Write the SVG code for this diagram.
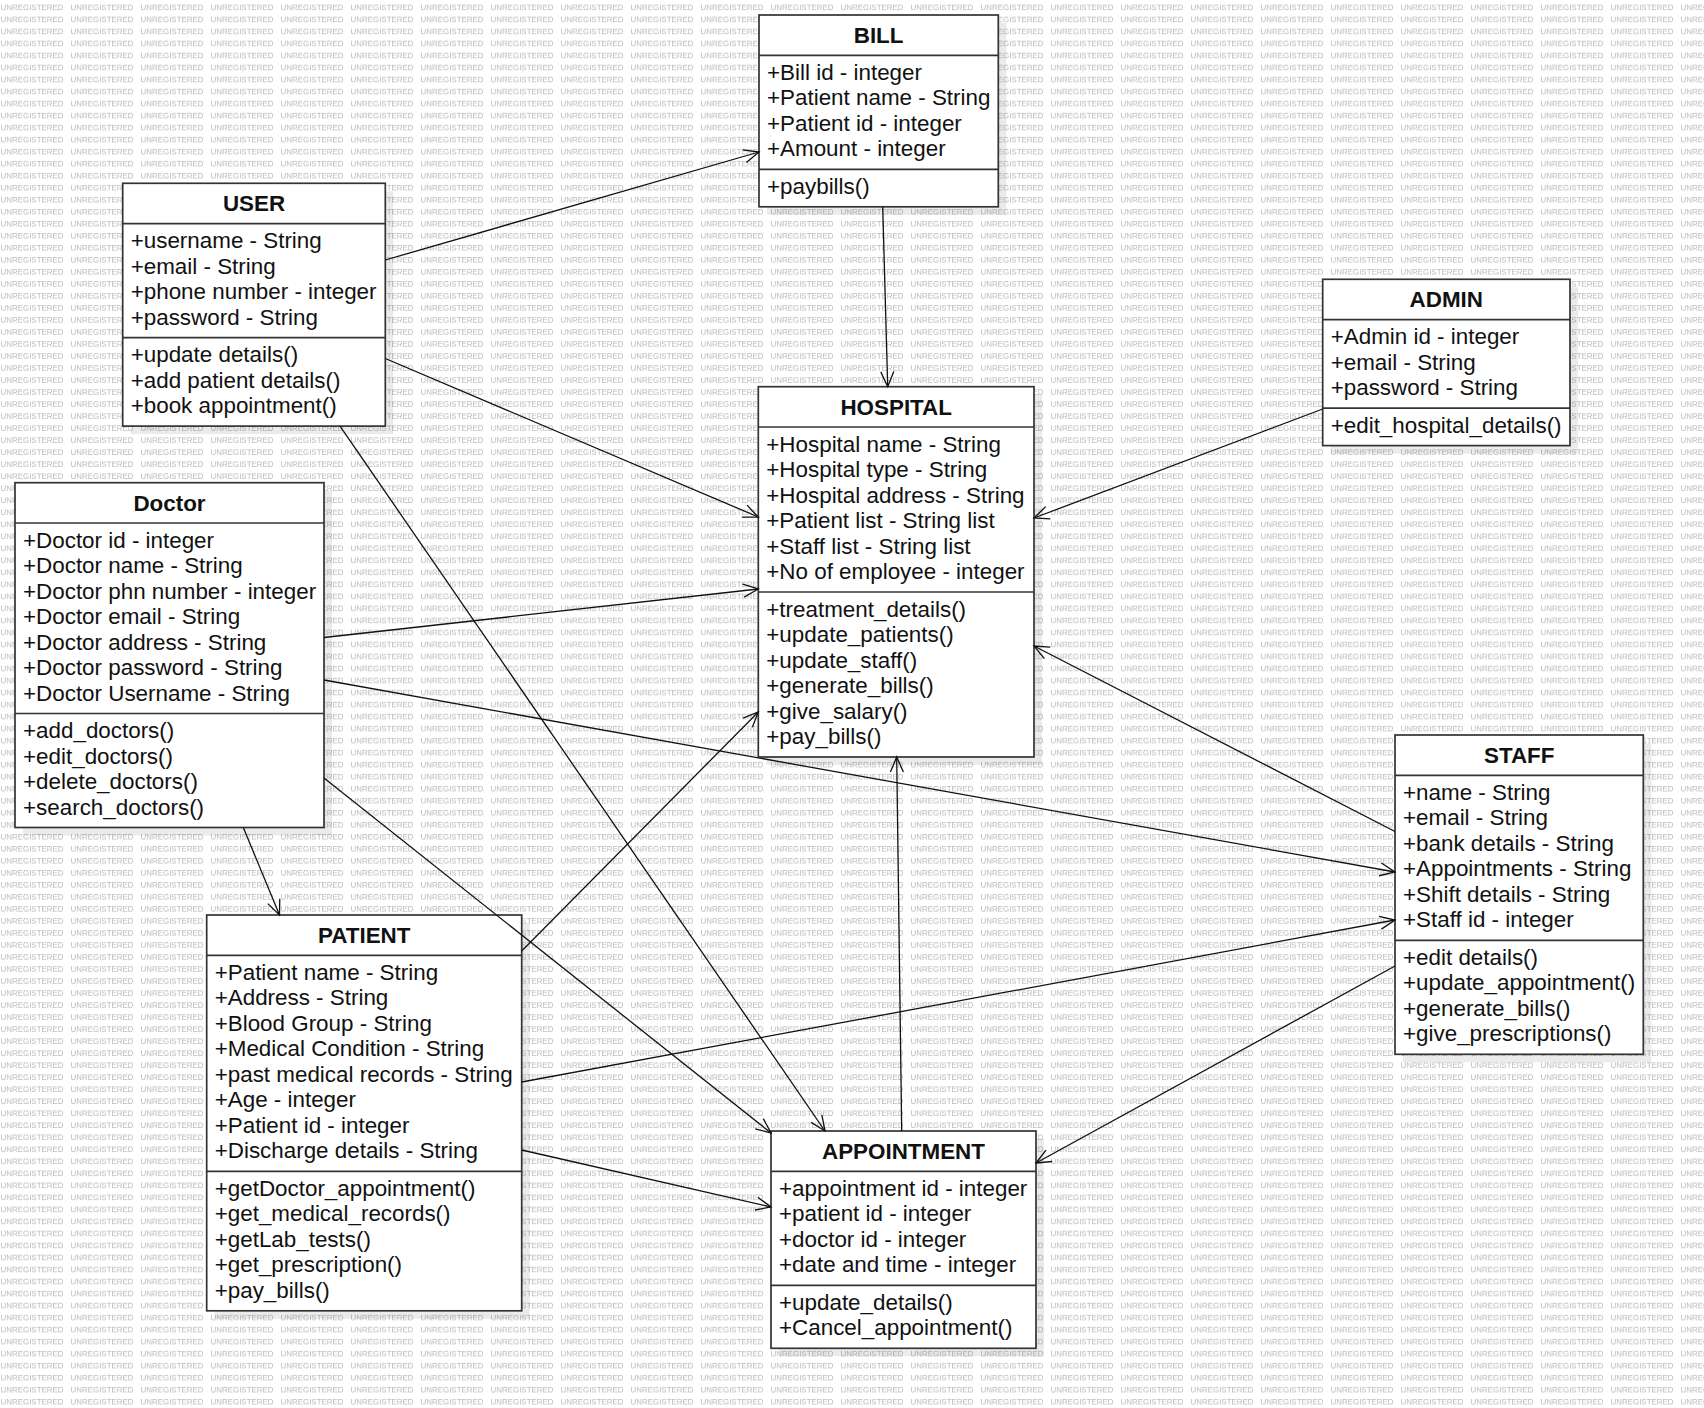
<svg xmlns="http://www.w3.org/2000/svg" width="1704" height="1408" viewBox="0 0 1704 1408">
<style>
.bg{fill:#fff}
.wm{font-family:"Liberation Sans",Arial,sans-serif;font-size:8px;fill:#b9b9b9}
.sh{fill:#000;opacity:0.08}
.box{fill:#fff;stroke:#333;stroke-width:1.7}
.dv{stroke:#333;stroke-width:1.7}
.t{font-family:"Liberation Sans",Arial,sans-serif;font-size:22.4px;fill:#111}
.h{font-weight:bold;text-anchor:middle}
.c{stroke:#111;stroke-width:1.3;fill:none;marker-end:url(#arr)}
</style>
<defs>
<pattern id="wmp" width="70" height="12.02" patternUnits="userSpaceOnUse">
<text class="wm" x="0.5" y="10.2" textLength="63" lengthAdjust="spacingAndGlyphs">UNREGISTERED</text>
</pattern>
<marker id="arr" markerUnits="userSpaceOnUse" markerWidth="20" markerHeight="20" refX="16" refY="7" orient="auto" overflow="visible">
<path d="M1,0.5 L16,7 L1,13.5" fill="none" stroke="#111" stroke-width="1.3"/>
</marker>
</defs>
<rect class="bg" x="0" y="0" width="1704" height="1408"/>
<rect x="0" y="0" width="1704" height="1408" fill="url(#wmp)"/>

<g id="shadows">
<rect class="sh" x="767" y="23" width="239.3" height="191.8"/>
<rect class="sh" x="130.7" y="191.3" width="262.6" height="242.8"/>
<rect class="sh" x="23" y="490.7" width="309" height="344.8"/>
<rect class="sh" x="766.3" y="394.7" width="275.7" height="370.3"/>
<rect class="sh" x="1330.7" y="287.3" width="247.3" height="166.3"/>
<rect class="sh" x="1403" y="743" width="248.3" height="319.3"/>
<rect class="sh" x="214.7" y="923" width="315" height="395.8"/>
<rect class="sh" x="779" y="1139" width="265" height="217.3"/>
</g>

<g id="BILL">
<rect class="box" x="759" y="15" width="239.3" height="191.8"/>
<line class="dv" x1="759" y1="55.3" x2="998.3" y2="55.3"/>
<line class="dv" x1="759" y1="169.3" x2="998.3" y2="169.3"/>
<text class="t h" x="878.6" y="43.3">BILL</text>
<text class="t" x="767" y="79.8">+Bill id - integer</text>
<text class="t" x="767" y="105.3">+Patient name - String</text>
<text class="t" x="767" y="130.8">+Patient id - integer</text>
<text class="t" x="767" y="156.3">+Amount - integer</text>
<text class="t" x="767" y="193.8">+paybills()</text>
</g>

<g id="USER">
<rect class="box" x="122.7" y="183.3" width="262.6" height="242.8"/>
<line class="dv" x1="122.7" y1="223.6" x2="385.3" y2="223.6"/>
<line class="dv" x1="122.7" y1="337.6" x2="385.3" y2="337.6"/>
<text class="t h" x="254" y="211">USER</text>
<text class="t" x="130.7" y="248.1">+username - String</text>
<text class="t" x="130.7" y="273.6">+email - String</text>
<text class="t" x="130.7" y="299.1">+phone number - integer</text>
<text class="t" x="130.7" y="324.6">+password - String</text>
<text class="t" x="130.7" y="362.1">+update details()</text>
<text class="t" x="130.7" y="387.6">+add patient details()</text>
<text class="t" x="130.7" y="413.1">+book appointment()</text>
</g>

<g id="Doctor">
<rect class="box" x="15" y="482.7" width="309" height="344.8"/>
<line class="dv" x1="15" y1="523" x2="324" y2="523"/>
<line class="dv" x1="15" y1="713.5" x2="324" y2="713.5"/>
<text class="t h" x="169.5" y="510.7">Doctor</text>
<text class="t" x="23" y="547.5">+Doctor id - integer</text>
<text class="t" x="23" y="573">+Doctor name - String</text>
<text class="t" x="23" y="598.5">+Doctor phn number - integer</text>
<text class="t" x="23" y="624">+Doctor email - String</text>
<text class="t" x="23" y="649.5">+Doctor address - String</text>
<text class="t" x="23" y="675">+Doctor password - String</text>
<text class="t" x="23" y="700.5">+Doctor Username - String</text>
<text class="t" x="23" y="738">+add_doctors()</text>
<text class="t" x="23" y="763.5">+edit_doctors()</text>
<text class="t" x="23" y="789">+delete_doctors()</text>
<text class="t" x="23" y="814.5">+search_doctors()</text>
</g>

<g id="HOSPITAL">
<rect class="box" x="758.3" y="386.7" width="275.7" height="370.3"/>
<line class="dv" x1="758.3" y1="427" x2="1034" y2="427"/>
<line class="dv" x1="758.3" y1="592" x2="1034" y2="592"/>
<text class="t h" x="896.2" y="414.7">HOSPITAL</text>
<text class="t" x="766.3" y="451.5">+Hospital name - String</text>
<text class="t" x="766.3" y="477">+Hospital type - String</text>
<text class="t" x="766.3" y="502.5">+Hospital address - String</text>
<text class="t" x="766.3" y="528">+Patient list - String list</text>
<text class="t" x="766.3" y="553.5">+Staff list - String list</text>
<text class="t" x="766.3" y="579">+No of employee - integer</text>
<text class="t" x="766.3" y="616.5">+treatment_details()</text>
<text class="t" x="766.3" y="642">+update_patients()</text>
<text class="t" x="766.3" y="667.5">+update_staff()</text>
<text class="t" x="766.3" y="693">+generate_bills()</text>
<text class="t" x="766.3" y="718.5">+give_salary()</text>
<text class="t" x="766.3" y="744">+pay_bills()</text>
</g>

<g id="ADMIN">
<rect class="box" x="1322.7" y="279.3" width="247.3" height="166.3"/>
<line class="dv" x1="1322.7" y1="319.6" x2="1570" y2="319.6"/>
<line class="dv" x1="1322.7" y1="408.1" x2="1570" y2="408.1"/>
<text class="t h" x="1446.3" y="307.3">ADMIN</text>
<text class="t" x="1330.7" y="344.1">+Admin id - integer</text>
<text class="t" x="1330.7" y="369.6">+email - String</text>
<text class="t" x="1330.7" y="395.1">+password - String</text>
<text class="t" x="1330.7" y="432.6">+edit_hospital_details()</text>
</g>

<g id="STAFF">
<rect class="box" x="1395" y="735" width="248.3" height="319.3"/>
<line class="dv" x1="1395" y1="775.3" x2="1643.3" y2="775.3"/>
<line class="dv" x1="1395" y1="940.3" x2="1643.3" y2="940.3"/>
<text class="t h" x="1519.2" y="763">STAFF</text>
<text class="t" x="1403" y="799.8">+name - String</text>
<text class="t" x="1403" y="825.3">+email - String</text>
<text class="t" x="1403" y="850.8">+bank details - String</text>
<text class="t" x="1403" y="876.3">+Appointments - String</text>
<text class="t" x="1403" y="901.8">+Shift details - String</text>
<text class="t" x="1403" y="927.3">+Staff id - integer</text>
<text class="t" x="1403" y="964.8">+edit details()</text>
<text class="t" x="1403" y="990.3">+update_appointment()</text>
<text class="t" x="1403" y="1015.8">+generate_bills()</text>
<text class="t" x="1403" y="1041.3">+give_prescriptions()</text>
</g>

<g id="PATIENT">
<rect class="box" x="206.7" y="915" width="315" height="395.8"/>
<line class="dv" x1="206.7" y1="955.3" x2="521.7" y2="955.3"/>
<line class="dv" x1="206.7" y1="1171.3" x2="521.7" y2="1171.3"/>
<text class="t h" x="364.2" y="943">PATIENT</text>
<text class="t" x="214.7" y="979.8">+Patient name - String</text>
<text class="t" x="214.7" y="1005.3">+Address - String</text>
<text class="t" x="214.7" y="1030.8">+Blood Group - String</text>
<text class="t" x="214.7" y="1056.3">+Medical Condition - String</text>
<text class="t" x="214.7" y="1081.8">+past medical records - String</text>
<text class="t" x="214.7" y="1107.3">+Age - integer</text>
<text class="t" x="214.7" y="1132.8">+Patient id - integer</text>
<text class="t" x="214.7" y="1158.3">+Discharge details - String</text>
<text class="t" x="214.7" y="1195.8">+getDoctor_appointment()</text>
<text class="t" x="214.7" y="1221.3">+get_medical_records()</text>
<text class="t" x="214.7" y="1246.8">+getLab_tests()</text>
<text class="t" x="214.7" y="1272.3">+get_prescription()</text>
<text class="t" x="214.7" y="1297.8">+pay_bills()</text>
</g>

<g id="APPOINTMENT">
<rect class="box" x="771" y="1131" width="265" height="217.3"/>
<line class="dv" x1="771" y1="1171.3" x2="1036" y2="1171.3"/>
<line class="dv" x1="771" y1="1285.3" x2="1036" y2="1285.3"/>
<text class="t h" x="903.5" y="1159">APPOINTMENT</text>
<text class="t" x="779" y="1195.8">+appointment id - integer</text>
<text class="t" x="779" y="1221.3">+patient id - integer</text>
<text class="t" x="779" y="1246.8">+doctor id - integer</text>
<text class="t" x="779" y="1272.3">+date and time - integer</text>
<text class="t" x="779" y="1309.8">+update_details()</text>
<text class="t" x="779" y="1335.3">+Cancel_appointment()</text>
</g>

<g id="connectors">
<line class="c" x1="385.3" y1="260" x2="759" y2="152"/>
<line class="c" x1="385.3" y1="358.5" x2="758.3" y2="517"/>
<line class="c" x1="340" y1="426.1" x2="825" y2="1131"/>
<line class="c" x1="882.7" y1="206.8" x2="887.7" y2="386.7"/>
<line class="c" x1="1322.7" y1="409" x2="1034" y2="518"/>
<line class="c" x1="324" y1="637.5" x2="758.3" y2="589"/>
<line class="c" x1="324" y1="680" x2="1395" y2="872"/>
<line class="c" x1="324" y1="778" x2="771" y2="1133"/>
<line class="c" x1="901.7" y1="1131" x2="896.7" y2="757"/>
<line class="c" x1="521.7" y1="951" x2="758.3" y2="712"/>
<line class="c" x1="521.7" y1="1082" x2="1395" y2="920"/>
<line class="c" x1="521.7" y1="1150" x2="771" y2="1207"/>
<line class="c" x1="243.3" y1="827.5" x2="279.5" y2="915"/>
<line class="c" x1="1395" y1="831.5" x2="1034" y2="646"/>
<line class="c" x1="1395" y1="966" x2="1036" y2="1163"/>
</g>
</svg>
